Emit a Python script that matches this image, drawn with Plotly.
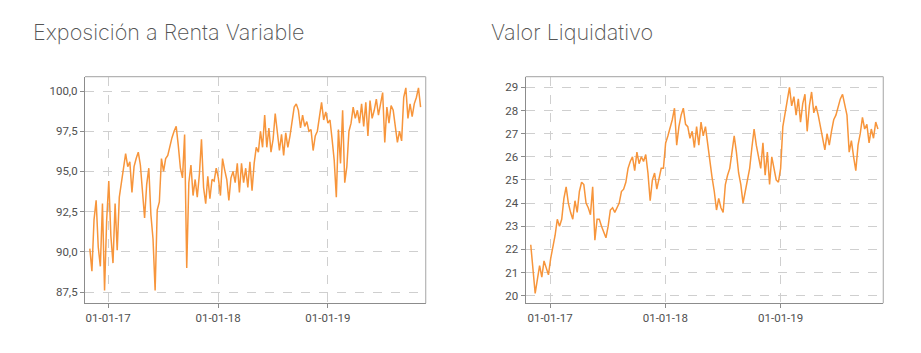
import pandas as pd
import plotly.graph_objects as go

start_date = "2016-11-01"

exposicion_rv = [
    90.2, 88.8, 92.0, 93.2, 90.3, 89.1, 93.0, 87.6, 92.0, 94.4,
    91.0, 89.3, 93.0, 90.1, 93.4, 94.3, 95.3, 96.1, 95.3, 95.6,
    93.7, 95.3, 95.8, 96.2, 95.4, 93.4, 92.1, 94.2, 95.2, 92.3,
    90.8, 87.6, 92.6, 93.1, 95.8, 95.0, 95.8, 96.0, 96.6, 97.1,
    97.5, 97.8, 96.6, 95.2, 94.6, 97.3, 89.0, 94.3, 95.4, 93.5,
    94.5, 93.4, 94.8, 97.0, 94.0, 93.0, 94.7, 93.3, 94.5, 94.4,
    95.2, 94.6, 93.5, 95.8, 95.1, 94.5, 93.2, 94.6, 95.0, 94.3,
    95.5, 93.7, 95.5, 94.3, 95.2, 94.0, 95.6, 93.8, 95.5, 96.5,
    96.2, 97.5, 96.5, 98.5, 96.5, 97.7, 96.2, 97.0, 98.6, 97.5,
    96.3, 97.3, 96.0, 97.4, 96.5, 97.2, 98.2, 99.0, 99.2, 98.8,
    97.7, 98.5, 97.8, 98.1, 97.5, 97.6, 96.3, 97.2, 97.5, 98.5,
    99.3, 98.2, 98.7, 98.0, 98.2, 97.0, 95.7, 93.4, 97.6, 95.5,
    98.8, 94.3, 95.3, 97.5, 98.0, 99.0, 98.3, 98.8, 98.0, 99.2,
    97.8, 99.3, 97.2, 99.4, 98.3, 98.8, 99.5, 98.5, 99.2, 99.9,
    96.8, 99.0, 98.0, 99.1, 98.8, 97.8, 96.8, 97.5, 96.9, 99.6,
    100.2, 98.3, 99.2, 98.4, 99.2, 99.6, 100.2, 99.0,
]

valor_liquidativo = [
    22.2, 21.0, 20.1, 20.7, 21.3, 20.8, 21.5, 21.2, 20.9, 21.6,
    22.1, 22.6, 23.3, 23.0, 23.3, 24.2, 24.7, 24.0, 23.6, 23.3,
    24.1, 23.6, 24.5, 24.9, 24.8, 24.0, 23.8, 23.5, 24.7, 22.4,
    23.3, 23.3, 23.0, 22.7, 22.5, 23.0, 23.7, 23.8, 23.6, 23.8,
    24.0, 24.5, 24.6, 24.9, 25.5, 25.8, 26.0, 25.4, 26.2, 25.7,
    26.0, 25.8, 26.1, 25.3, 24.1, 25.0, 25.3, 24.6, 25.0, 25.5,
    25.5, 26.6, 26.9, 27.2, 27.6, 28.1, 26.5, 27.3, 27.8, 28.1,
    27.4, 27.3, 26.8, 27.1, 26.4, 27.3, 26.5, 27.5, 26.9, 27.3,
    26.5, 25.8, 25.1, 24.5, 23.7, 24.2, 23.8, 23.6, 24.8, 25.2,
    25.5, 26.2, 26.9, 26.2, 25.3, 24.8, 24.0, 24.5, 25.0, 25.5,
    26.4, 27.2, 26.5, 26.0, 25.5, 26.6, 25.2, 26.2, 24.8, 26.0,
    25.5, 25.0, 24.9, 25.5, 27.3, 27.9, 28.3, 29.0, 28.2, 28.6,
    27.8, 28.5, 27.5, 28.3, 28.7, 27.1, 28.2, 28.8, 27.9, 28.2,
    27.8, 27.3, 26.8, 26.3, 27.0, 26.5, 27.1, 27.6, 27.8, 28.2,
    28.5, 28.7, 28.2, 27.8, 26.2, 26.7, 26.0, 25.4, 26.5, 27.0,
    27.7, 27.2, 27.4, 26.6, 27.2, 26.8, 27.5, 27.2,
]

x_tick_dates = ["2017-01-01", "2018-01-01", "2019-01-01"]
x_range = ["2016-10-16", "2019-11-22"]
left_title = "Exposición a Renta Variable"
right_title = "Valor Liquidativo"
left_yticks = [87.5, 90.0, 92.5, 95.0, 97.5, 100.0]
right_yticks = list(range(20, 30))

dates_l = pd.date_range(start_date, periods=len(exposicion_rv), freq="7D")
dates_r = pd.date_range(start_date, periods=len(valor_liquidativo), freq="7D")

W, H = 921, 353
LINE = "#f7953b"
GRID = "#cfcfcf"
AX_DARK = "#8c8c8c"
AX_LIGHT = "#b4b4b4"
TICKFONT = dict(family="Roboto, Arial, sans-serif", size=11.5, color="#505050")

fig = go.Figure()
fig.add_trace(go.Scatter(x=dates_l, y=exposicion_rv, mode="lines",
                         line=dict(color=LINE, width=1.5), xaxis="x", yaxis="y",
                         showlegend=False, hoverinfo="x+y"))
fig.add_trace(go.Scatter(x=dates_r, y=valor_liquidativo, mode="lines",
                         line=dict(color=LINE, width=1.5), xaxis="x2", yaxis="y2",
                         showlegend=False, hoverinfo="x+y"))

ytop, ybot = 1 - 76.7 / H, 1 - 303.3 / H
dom_l = [85 / W, 425.7 / W]
dom_r = [525.7 / W, 883.3 / W]

def xaxis(dom, anchor):
    return dict(domain=dom, anchor=anchor, type="date", range=x_range,
                tickvals=x_tick_dates, tickformat="%d-%m-%y",
                showgrid=True, gridcolor=GRID, griddash="dash", gridwidth=1,
                showline=True, linecolor=AX_DARK, linewidth=1.2,
                ticks="outside", ticklen=4, tickcolor=AX_DARK, tickwidth=1,
                tickfont=TICKFONT, zeroline=False, fixedrange=True)

def yaxis(anchor, rng, ticks, fmt):
    return dict(domain=[ybot, ytop], anchor=anchor, range=rng,
                tickvals=ticks, tickformat=fmt,
                showgrid=True, gridcolor=GRID, griddash="dash", gridwidth=1,
                showline=True, linecolor=AX_DARK, linewidth=1.2,
                ticks="outside", ticklen=4, tickcolor=AX_DARK, tickwidth=1,
                tickfont=TICKFONT, zeroline=False, fixedrange=True)

fig.update_layout(
    width=W, height=H,
    margin=dict(l=0, r=0, t=0, b=0),
    paper_bgcolor="white", plot_bgcolor="white",
    separators=",.",
    xaxis=xaxis(dom_l, "y"),
    yaxis=yaxis("x", [86.8, 100.89], left_yticks, ".1f"),
    xaxis2=xaxis(dom_r, "y2"),
    yaxis2=yaxis("x2", [19.67, 29.46], right_yticks, "d"),
)

# light top/right frame edges
for dom in (dom_l, dom_r):
    fig.add_shape(type="line", xref="paper", yref="paper",
                  x0=dom[0], x1=dom[1], y0=ytop, y1=ytop,
                  line=dict(color=AX_LIGHT, width=1.2))
    fig.add_shape(type="line", xref="paper", yref="paper",
                  x0=dom[1], x1=dom[1], y0=ybot, y1=ytop,
                  line=dict(color=AX_LIGHT, width=1.2))

TITLEFONT = dict(family="Inter, sans-serif", size=21.6, color="#555555", weight=200)
fig.add_annotation(text=left_title, xref="paper", yref="paper",
                   x=31 / W, y=1 - 32 / H, xanchor="left", yanchor="middle",
                   showarrow=False, font=TITLEFONT)
fig.add_annotation(text=right_title, xref="paper", yref="paper",
                   x=489 / W, y=1 - 32 / H, xanchor="left", yanchor="middle",
                   showarrow=False, font=TITLEFONT)

fig.write_html("out.html")
